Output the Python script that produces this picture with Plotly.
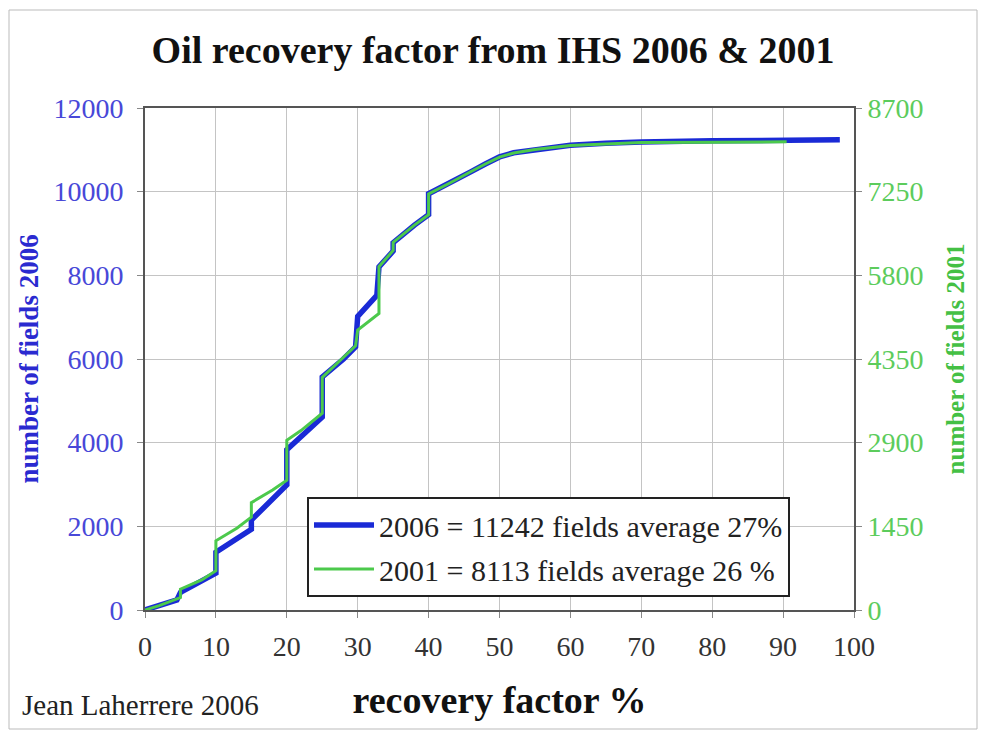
import plotly.graph_objects as go

# 2006 dataset (left axis): recovery factor % vs cumulative number of fields
rf_2006 = [0, 2, 4.5, 5, 8, 10, 10, 13, 15, 15, 18, 20, 20, 22, 25, 25, 28, 29.7, 30, 32.7, 33,
           35, 35, 38, 40, 40, 43, 45, 46, 48, 50, 52, 55, 60, 65, 70, 80, 90, 98]
n_2006 = [0, 110, 240, 420, 680, 880, 1380, 1700, 1930, 2150, 2650, 2990, 3830, 4150, 4610, 5570,
          6000, 6290, 7020, 7520, 8200, 8580, 8780, 9200, 9450, 9950, 10200, 10400, 10480, 10660,
          10830, 10930, 11010, 11110, 11160, 11190, 11215, 11235, 11242]

# 2001 dataset (right axis)
rf_2001 = [0, 2, 5, 5, 8, 10, 10, 13, 15, 15, 18, 20, 20, 22, 25, 25, 28, 29.7, 30, 33, 33,
           35, 35, 38, 40, 40, 43, 45, 46, 48, 50, 52, 55, 60, 65, 70, 80, 90.5]
n_2001 = [0, 75, 215, 360, 520, 680, 1200, 1420, 1610, 1860, 2080, 2250, 2940, 3110, 3410, 4030,
          4380, 4580, 4850, 5140, 5950, 6230, 6370, 6670, 6850, 7210, 7400, 7540, 7600, 7730,
          7850, 7920, 7980, 8050, 8080, 8100, 8108, 8113]

name_2006 = "2006 = 11242 fields average 27%"
name_2001 = "2001 = 8113 fields average 26 %"
y_ticks = [0, 2000, 4000, 6000, 8000, 10000, 12000]
y2_ticks = [0, 1450, 2900, 4350, 5800, 7250, 8700]
x_ticks = [0, 10, 20, 30, 40, 50, 60, 70, 80, 90, 100]

BLUE = "#1a2ad6"
GREEN = "#4cc94c"
SERIF = "Liberation Serif"

fig = go.Figure()
fig.add_trace(go.Scatter(x=rf_2006, y=n_2006, mode="lines", name=name_2006,
                         line=dict(color=BLUE, width=5.5), legendgroup="a", yaxis="y"))
fig.add_trace(go.Scatter(x=rf_2001, y=n_2001, mode="lines", name=name_2001,
                         line=dict(color=GREEN, width=3), legendgroup="b", yaxis="y2"))

OFF = 8  # page body margin
W, H = 970, 722
# plot area in page pixels: 145..854 x, 108..610 y
L = 145 - OFF
T = 108 - OFF
R = W - (854 - OFF)
B = H - (610 - OFF)
pw, ph = W - L - R, H - T - B

def px2paper_x(px):
    return (px - OFF - L) / pw

def px2paper_y(py):
    return (H - B - (py - OFF)) / ph

fig.update_layout(
    width=W, height=H,
    margin=dict(l=L, r=R, t=T, b=B, pad=0),
    paper_bgcolor="white", plot_bgcolor="white",
    title=dict(text="<b>Oil recovery factor from IHS 2006 &amp; 2001</b>",
               font=dict(family=SERIF, size=38, color="#111"),
               x=0.5, xanchor="center", y=1 - (50 - OFF) / H, yanchor="middle"),
    xaxis=dict(range=[0, 100], tickvals=x_ticks, showgrid=True, gridcolor="#c4c4c4", gridwidth=1,
               showline=True, linecolor="#555", linewidth=2, mirror=True,
               ticks="outside", ticklen=6, tickcolor="#888", ticklabelstandoff=4,
               tickfont=dict(family=SERIF, size=28, color="#333"),
               title=dict(text="<b>recovery factor %</b>", standoff=26,
                          font=dict(family=SERIF, size=38, color="#111")),
               zeroline=False),
    yaxis=dict(range=[0, 12000], tickvals=y_ticks, ticktext=[str(v) for v in y_ticks],
               showgrid=True, gridcolor="#c4c4c4", gridwidth=1,
               showline=True, linecolor="#555", linewidth=2, mirror=True,
               ticks="outside", ticklen=6, tickcolor="#888", ticklabelstandoff=8,
               tickfont=dict(family=SERIF, size=28, color="#4848d8"),
               title=dict(text="<b>number of fields 2006</b>", standoff=7,
                          font=dict(family=SERIF, size=27, color="#2a2ad0")),
               zeroline=False),
    yaxis2=dict(range=[0, 8700], tickvals=y2_ticks, ticktext=[str(v) for v in y2_ticks],
                overlaying="y", side="right",
                showgrid=False, showline=True, linecolor="#555", linewidth=2,
                ticks="outside", ticklen=6, tickcolor="#888",
                tickfont=dict(family=SERIF, size=28, color="#5ccc5c"),
                title=dict(text="<b>number of fields 2001</b>", standoff=24,
                           font=dict(family=SERIF, size=25, color="#44c044")),
                zeroline=False),
    legend=dict(x=px2paper_x(307), y=px2paper_y(497), xanchor="left", yanchor="top",
                bgcolor="white", bordercolor="#222", borderwidth=2,
                font=dict(family=SERIF, size=30, color="#222"),
                itemwidth=60,
                traceorder="grouped", tracegroupgap=2),
    showlegend=True,
)

fig.add_annotation(text="Jean Laherrere 2006", xref="paper", yref="paper",
                   x=px2paper_x(20), y=px2paper_y(705), xanchor="left", yanchor="middle",
                   showarrow=False, font=dict(family=SERIF, size=29, color="#222"))

# outer frame of the picture
fig.add_shape(type="rect", xref="paper", yref="paper",
              x0=px2paper_x(9), x1=px2paper_x(977), y0=px2paper_y(729), y1=px2paper_y(10),
              line=dict(color="#bbbbbb", width=1), fillcolor="rgba(0,0,0,0)", layer="below")

fig.write_html("out.html")
